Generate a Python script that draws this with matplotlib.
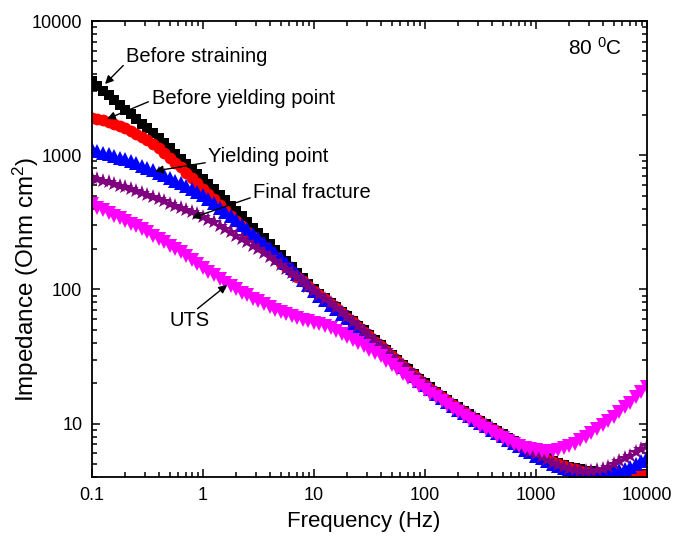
import matplotlib
matplotlib.use("Agg")
import matplotlib.pyplot as plt
from matplotlib.ticker import FixedLocator, FixedFormatter, LogLocator, NullFormatter

plt.rcParams['font.family'] = ['Liberation Sans', 'DejaVu Sans']
plt.rcParams['mathtext.fontset'] = 'custom'
plt.rcParams['mathtext.rm'] = 'Liberation Sans'
plt.rcParams['mathtext.it'] = 'Liberation Sans'

# Frequencies (Hz), 20 points per decade
freq = [0.1, 0.112, 0.126, 0.141, 0.158, 0.178, 0.2, 0.224, 0.251, 0.282,
        0.316, 0.355, 0.398, 0.447, 0.501, 0.562, 0.631, 0.708, 0.794, 0.891,
        1.0, 1.12, 1.26, 1.41, 1.58, 1.78, 2.0, 2.24, 2.51, 2.82,
        3.16, 3.55, 3.98, 4.47, 5.01, 5.62, 6.31, 7.08, 7.94, 8.91,
        10.0, 11.2, 12.6, 14.1, 15.8, 17.8, 20.0, 22.4, 25.1, 28.2,
        31.6, 35.5, 39.8, 44.7, 50.1, 56.2, 63.1, 70.8, 79.4, 89.1,
        100, 112, 126, 141, 158, 178, 200, 224, 251, 282,
        316, 355, 398, 447, 501, 562, 631, 708, 794, 891,
        1000, 1122, 1259, 1413, 1585, 1778, 1995, 2239, 2512, 2818,
        3162, 3548, 3981, 4467, 5012, 5623, 6310, 7079, 7943, 8913, 10000]

# log10 of impedance (Ohm cm^2)
before_straining = [3.55, 3.515, 3.48, 3.445, 3.41, 3.375, 3.34, 3.305, 3.27, 3.235,
                    3.20, 3.165, 3.125, 3.09, 3.05, 3.01, 2.975, 2.935, 2.90, 2.86,
                    2.825, 2.785, 2.745, 2.705, 2.665, 2.625, 2.585, 2.545, 2.505, 2.46,
                    2.42, 2.38, 2.34, 2.295, 2.255, 2.21, 2.17, 2.125, 2.085, 2.04,
                    2.00, 1.965, 1.935, 1.90, 1.87, 1.835, 1.80, 1.765, 1.73, 1.695,
                    1.66, 1.62, 1.585, 1.55, 1.51, 1.475, 1.44, 1.405, 1.37, 1.335,
                    1.30, 1.27, 1.235, 1.205, 1.175, 1.145, 1.12, 1.095, 1.07, 1.045,
                    1.02, 0.995, 0.97, 0.945, 0.92, 0.895, 0.87, 0.845, 0.82, 0.80,
                    0.775, 0.76, 0.745, 0.725, 0.71, 0.695, 0.68, 0.67, 0.66, 0.65,
                    0.645, 0.64, 0.635, 0.63, 0.625, 0.62, 0.62, 0.62, 0.62, 0.62, 0.625]
before_yielding = [3.28, 3.27, 3.26, 3.245, 3.23, 3.215, 3.20, 3.18, 3.16, 3.135,
                   3.11, 3.08, 3.05, 3.015, 2.98, 2.945, 2.91, 2.87, 2.83, 2.79,
                   2.75, 2.71, 2.67, 2.63, 2.59, 2.55, 2.51, 2.47, 2.43, 2.39,
                   2.35, 2.315, 2.28, 2.24, 2.20, 2.165, 2.13, 2.095, 2.06, 2.025,
                   1.99, 1.955, 1.925, 1.89, 1.86, 1.825, 1.79, 1.755, 1.72, 1.685,
                   1.65, 1.61, 1.575, 1.54, 1.50, 1.465, 1.43, 1.395, 1.36, 1.325,
                   1.29, 1.26, 1.225, 1.195, 1.165, 1.135, 1.11, 1.085, 1.06, 1.035,
                   1.01, 0.985, 0.96, 0.935, 0.91, 0.885, 0.86, 0.835, 0.81, 0.79,
                   0.765, 0.75, 0.73, 0.715, 0.70, 0.685, 0.67, 0.66, 0.65, 0.64,
                   0.63, 0.625, 0.62, 0.615, 0.61, 0.61, 0.61, 0.61, 0.61, 0.615, 0.62]
yielding_point = [3.045, 3.03, 3.02, 3.01, 2.995, 2.98, 2.97, 2.955, 2.94, 2.92,
                  2.905, 2.89, 2.87, 2.85, 2.83, 2.81, 2.79, 2.77, 2.75, 2.725,
                  2.70, 2.675, 2.645, 2.61, 2.58, 2.55, 2.515, 2.48, 2.45, 2.415,
                  2.38, 2.345, 2.31, 2.27, 2.235, 2.20, 2.16, 2.115, 2.07, 2.03,
                  1.99, 1.95, 1.92, 1.885, 1.855, 1.82, 1.785, 1.75, 1.715, 1.68,
                  1.645, 1.605, 1.57, 1.535, 1.495, 1.46, 1.425, 1.39, 1.355, 1.32,
                  1.285, 1.255, 1.22, 1.19, 1.16, 1.13, 1.105, 1.08, 1.055, 1.03,
                  1.005, 0.98, 0.955, 0.93, 0.905, 0.88, 0.855, 0.83, 0.805, 0.785,
                  0.76, 0.74, 0.72, 0.70, 0.685, 0.67, 0.66, 0.65, 0.645, 0.64,
                  0.635, 0.635, 0.635, 0.64, 0.645, 0.655, 0.665, 0.68, 0.70, 0.725, 0.75]
final_fracture = [2.83, 2.82, 2.81, 2.80, 2.785, 2.77, 2.76, 2.745, 2.73, 2.715,
                  2.70, 2.685, 2.67, 2.655, 2.64, 2.625, 2.61, 2.595, 2.58, 2.56,
                  2.54, 2.52, 2.50, 2.475, 2.45, 2.425, 2.40, 2.375, 2.35, 2.325,
                  2.30, 2.27, 2.24, 2.21, 2.185, 2.155, 2.125, 2.09, 2.06, 2.02,
                  1.985, 1.96, 1.93, 1.895, 1.865, 1.83, 1.795, 1.76, 1.725, 1.69,
                  1.655, 1.615, 1.58, 1.545, 1.505, 1.47, 1.435, 1.40, 1.365, 1.33,
                  1.295, 1.265, 1.23, 1.20, 1.17, 1.14, 1.115, 1.09, 1.065, 1.04,
                  1.015, 0.99, 0.965, 0.94, 0.915, 0.89, 0.865, 0.84, 0.815, 0.79,
                  0.77, 0.75, 0.73, 0.71, 0.69, 0.675, 0.665, 0.655, 0.65, 0.65,
                  0.65, 0.655, 0.665, 0.68, 0.70, 0.72, 0.74, 0.76, 0.785, 0.81, 0.835]
uts = [2.634, 2.61, 2.59, 2.57, 2.55, 2.53, 2.51, 2.49, 2.47, 2.45,
       2.425, 2.40, 2.375, 2.35, 2.325, 2.30, 2.276, 2.25, 2.22, 2.19,
       2.16, 2.13, 2.105, 2.075, 2.05, 2.025, 2.00, 1.975, 1.955, 1.93,
       1.91, 1.89, 1.87, 1.85, 1.835, 1.815, 1.80, 1.79, 1.775, 1.765,
       1.75, 1.74, 1.725, 1.71, 1.69, 1.67, 1.645, 1.62, 1.60, 1.575,
       1.55, 1.525, 1.50, 1.47, 1.44, 1.405, 1.37, 1.34, 1.31, 1.28,
       1.25, 1.22, 1.195, 1.165, 1.14, 1.11, 1.085, 1.06, 1.035, 1.01,
       0.985, 0.96, 0.935, 0.91, 0.89, 0.87, 0.85, 0.835, 0.82, 0.81,
       0.80, 0.795, 0.79, 0.795, 0.80, 0.815, 0.83, 0.85, 0.875, 0.90,
       0.93, 0.96, 0.99, 1.02, 1.05, 1.085, 1.12, 1.155, 1.195, 1.235, 1.275]

series = [
    ("Before straining", before_straining, 'black', 's', 7),
    ("Before yielding point", before_yielding, 'red', 'o', 8.5),
    ("Yielding point", yielding_point, 'blue', '^', 9.5),
    ("Final fracture", final_fracture, '#800080', '*', 11.5),
    ("UTS", uts, '#ff00ff', 'v', 10.5),
]

xtick_vals = [0.1, 1, 10, 100, 1000, 10000]
xtick_labels = ['0.1', '1', '10', '100', '1000', '10000']
ytick_vals = [10, 100, 1000, 10000]
ytick_labels = ['10', '100', '1000', '10000']

fig = plt.figure(figsize=(6.74, 5.44), dpi=100)
ax = fig.add_axes([92/674, 1-477/544, (647-92)/674, (477-21)/544])

for name, vals, color, marker, ms in series:
    z = [10**v for v in vals]
    ax.plot(freq, z, linestyle='none', marker=marker, color=color,
            markersize=ms, markeredgewidth=0)

ax.set_xscale('log')
ax.set_yscale('log')
ax.set_xlim(0.1, 10000)
ax.set_ylim(4.0, 10000)

ax.xaxis.set_major_locator(FixedLocator(xtick_vals))
ax.xaxis.set_major_formatter(FixedFormatter(xtick_labels))
ax.yaxis.set_major_locator(FixedLocator(ytick_vals))
ax.yaxis.set_major_formatter(FixedFormatter(ytick_labels))
ax.xaxis.set_minor_locator(LogLocator(base=10, subs=range(2, 10), numticks=20))
ax.yaxis.set_minor_locator(LogLocator(base=10, subs=range(2, 10), numticks=20))
ax.xaxis.set_minor_formatter(NullFormatter())
ax.yaxis.set_minor_formatter(NullFormatter())

ax.tick_params(which='both', direction='in', top=True, right=True, width=1.1)
ax.tick_params(which='major', length=6, labelsize=13, pad=7)
ax.tick_params(which='minor', length=3.5)
for sp in ax.spines.values():
    sp.set_linewidth(1.3)

H = 544
fig.text(364, H-522, 'Frequency (Hz)', transform=None, fontsize=16,
         ha='center', va='center')
fig.text(26, H-279, 'Impedance (Ohm cm$^2$)', transform=None, fontsize=17.5,
         ha='center', va='center', rotation=90)

ap = dict(arrowstyle='-|>', color='black', lw=1, mutation_scale=12, shrinkA=0, shrinkB=0)
fs = 14.5
ax.annotate('Before straining', xy=(105, H-84), xycoords='figure pixels',
            xytext=(126, H-57), textcoords='figure pixels', fontsize=fs, va='center',
            arrowprops=dict(ap, relpos=(0, 0.2)))
ax.annotate('Before yielding point', xy=(107, H-119), xycoords='figure pixels',
            xytext=(152, H-98), textcoords='figure pixels', fontsize=fs, va='center',
            arrowprops=dict(ap, relpos=(-0.02, 0.3)))
ax.annotate('Yielding point', xy=(155, H-171), xycoords='figure pixels',
            xytext=(208, H-157), textcoords='figure pixels', fontsize=fs, va='center',
            arrowprops=dict(ap, relpos=(-0.02, 0.2)))
ax.annotate('Final fracture', xy=(192, H-218), xycoords='figure pixels',
            xytext=(253, H-192), textcoords='figure pixels', fontsize=fs, va='center',
            arrowprops=dict(ap, relpos=(-0.02, 0.2)))
ax.annotate('UTS', xy=(227, H-285), xycoords='figure pixels',
            xytext=(190, H-321), textcoords='figure pixels', fontsize=fs, ha='center', va='center',
            arrowprops=dict(ap, relpos=(0.6, 1.0)))

ax.text(595, H-48, '80 $^0$C', transform=None, fontsize=15, ha='center', va='center')

fig.savefig('out.png', dpi=100)
